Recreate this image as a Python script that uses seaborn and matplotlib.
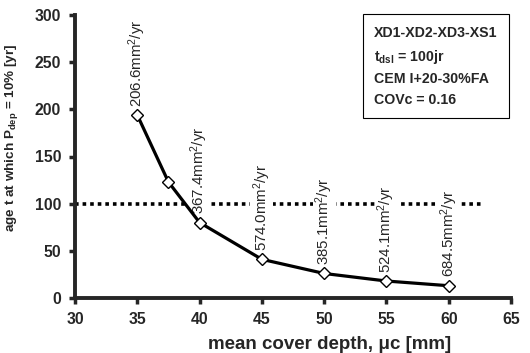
import matplotlib
matplotlib.use("Agg")
import matplotlib.pyplot as plt
import seaborn as sns
import pandas as pd

cover = [35, 37.5, 40, 45, 50, 55, 60]
age = [194, 123, 80, 41, 26, 18, 13]
label_x = [35, 40, 45, 50, 55, 60]
label_y = [194, 80, 41, 26, 18, 13]
labels = ["206.6", "367.4", "574.0", "385.1", "524.1", "684.5"]
threshold = 100
box_lines = ["XD1-XD2-XD3-XS1", "t$_{dsl}$ = 100jr", "CEM I+20-30%FA", "COVc = 0.16"]

sns.set_theme(style="ticks")
plt.rcParams['font.family'] = ['Liberation Sans', 'DejaVu Sans']
plt.rcParams['mathtext.default'] = 'regular'

fig = plt.figure(figsize=(5.3, 3.53), dpi=100)
ax = fig.add_axes([75/530, 1-298/353, (511-75)/530, (298-15)/353])

df = pd.DataFrame({"cover": cover, "age": age})
ax.plot([30, 62.8], [threshold, threshold], color="black", lw=2.6,
        linestyle=(0, (1.0, 1.1)), dash_capstyle="butt", zorder=1)
sns.lineplot(data=df, x="cover", y="age", ax=ax, color="black", lw=2.3,
             marker="D", markersize=6.5, markerfacecolor="white",
             markeredgecolor="black", markeredgewidth=1.0, zorder=3)

for x, y, t in zip(label_x, label_y, labels):
    ax.annotate(t + "mm$^2$/yr", (x, y), xytext=(0, 6), textcoords="offset points",
                rotation=90, ha="center", va="bottom", fontsize=10.8,
                bbox=dict(boxstyle="square,pad=0.05", fc="white", ec="none"), zorder=2)

ax.text(0.686, 0.962, "\n".join(box_lines), transform=ax.transAxes, ha="left", va="top",
        fontsize=10.2, fontweight="bold", linespacing=1.6,
        bbox=dict(boxstyle="square,pad=0.8", fc="white", ec="black", lw=0.8))

ax.set_xlim(30, 65)
ax.set_ylim(0, 300)
ax.set_xticks(range(30, 66, 5))
ax.set_yticks(range(0, 301, 50))
ax.set_xlabel("mean cover depth, μc [mm]", fontsize=13.5, fontweight="bold")
ax.xaxis.set_label_coords(0.585, -0.135)
ax.set_ylabel("age t at which P$_{dep}$ = 10% [yr]", fontsize=9.7, fontweight="bold")
ax.yaxis.set_label_coords(-0.125, 0.565)
for lab in ax.get_xticklabels() + ax.get_yticklabels():
    lab.set_fontweight("bold")
ax.tick_params(labelsize=11.3, width=2.5, length=4, direction="out", pad=6)
sns.despine(ax=ax)
for s in ["left", "bottom"]:
    ax.spines[s].set_linewidth(2.8)

fig.savefig("out.png", dpi=100)
